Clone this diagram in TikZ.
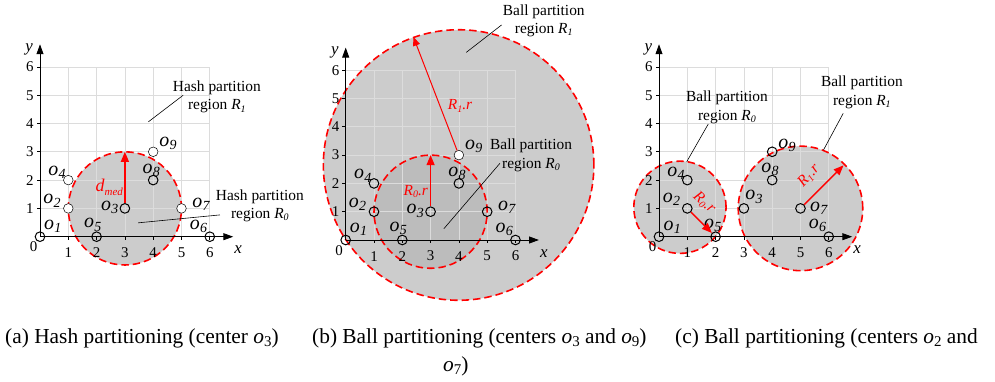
\documentclass[tikz,border=0pt]{standalone}
\usepackage{fontspec}
\setmainfont{Liberation Serif}
\usetikzlibrary{arrows.meta}
\definecolor{regc}{HTML}{CCCCCC}
\definecolor{regd}{HTML}{BCBCBC}
\definecolor{gridc}{HTML}{DCDCDC}
\definecolor{redc}{HTML}{FF0000}
\newcommand\olab[1]{\textit{o}\kern0.3pt\raisebox{-0.35ex}{\fontsize{14}{14}\selectfont\textit{#1}}}
\newcommand\Rsub[1]{\textit{R}\raisebox{-0.35ex}{\fontsize{10}{10}\selectfont\textit{#1}}}
\newcommand\panelgrid{\draw[gridl] (0,0) grid (6,6);}
\newcommand\panelaxes[1]{%
  \foreach \i in {1,...,6}{
    \draw[tickl] (\i,0) -- (\i,-0.12);
    \draw[tickl] (0,\i) -- (-0.12,\i);
    \node[num] (#1x\i) at (\i,-0.57) {\i};
    \node[num] (#1y\i) at (-0.36,\i) {\i};
  }
  \node[num] (#1zero) at (-0.23,-0.36) {0};
  \draw[axisl] (0,0) -- (6.83,0);
  \draw[axisl] (0,0) -- (0,6.8);
  \node[axlab] (#1xl) at (7.0,-0.47) {x};
  \node[axlab] (#1yl) at (-0.38,6.62) {y};
}
\begin{document}
\begin{tikzpicture}[x=0.035336cm, y=-0.035336cm,
  gridl/.style={draw=gridc, line width=0.7pt},
  axisl/.style={draw=black, line width=0.9pt, -{Triangle[length=10pt,width=7pt]}},
  tickl/.style={draw=black, line width=0.7pt},
  num/.style={font=\fontsize{15}{15}\selectfont, inner sep=0pt},
  axlab/.style={font=\fontsize{17}{17}\selectfont\itshape, inner sep=0pt},
  pt/.style={circle, draw=black, line width=1pt, minimum size=0.34cm, inner sep=0pt},
  wpt/.style={pt, fill=white, line width=0.5pt},
  olbl/.style={font=\fontsize{20}{20}\selectfont, inner sep=0pt},
  region/.style={fill=regc},
  border/.style={draw=redc, line width=1.6pt, dash pattern=on 7.5pt off 4pt},
  redarr/.style={draw=redc, line width=1.3pt, -{Triangle[length=10pt,width=8pt]}},
  redarrthin/.style={draw=redc, line width=1pt, -{Triangle[length=9pt,width=7pt]}},
  redlbl/.style={text=redc, font=\fontsize{15.5}{15.5}\selectfont, inner sep=0pt},
  lbl/.style={font=\fontsize{15.5}{18.3}\selectfont, align=center, inner sep=0pt},
  lead/.style={draw=black, line width=0.6pt},
  captxt/.style={font=\fontsize{21.5}{27}\selectfont, inner sep=0pt, anchor=base west}]
\useasboundingbox (0,0) rectangle (995,382);

% ---------------- panel (a)
\begin{scope}[shift={(40,236.7)}, x=1cm, y=1cm]
  \fill[region] (3,1) circle (2);
  \panelgrid
  \draw[border] (3,1) circle (2);
  \panelaxes{a}
  \node[pt]  (a1) at (0,0) {};
  \node[wpt] (a2) at (1,1) {};
  \node[pt]  (a3) at (3,1) {};
  \node[wpt] (a4) at (1,2) {};
  \node[pt]  (a5) at (2,0) {};
  \node[pt]  (a6) at (6,0) {};
  \node[wpt] (a7) at (5,1) {};
  \node[pt]  (a8) at (4,2) {};
  \node[wpt] (a9) at (4,3) {};
  \node[olbl] (la1) at (0.45,0.37) {\olab{1}};
  \node[olbl] (la2) at (0.42,1.27) {\olab{2}};
  \node[olbl] (la3) at (2.46,1.03) {\olab{3}};
  \node[olbl] (la4) at (0.60,2.27) {\olab{4}};
  \node[olbl] (la5) at (1.86,0.42) {\olab{5}};
  \node[olbl] (la6) at (5.60,0.37) {\olab{6}};
  \node[olbl] (la7) at (5.70,1.15) {\olab{7}};
  \node[olbl] (la8) at (3.93,2.35) {\olab{8}};
  \node[olbl] (la9) at (4.52,3.30) {\olab{9}};
  \coordinate (atop) at (3,3);
  \draw[redarr] (a3) -- (atop);
  \node[redlbl, font=\fontsize{18}{18}\selectfont] (adm) at (2.45,1.75) {\textit{d}\raisebox{-0.5ex}{\fontsize{11}{11}\selectfont\textit{med}}};
  \node[lbl] (aR1) at (6.25,4.94) {Hash partition\\region \Rsub{1}};
  \node[lbl] (aR0) at (7.77,1.10) {Hash partition\\region \Rsub{0}};
  \coordinate (aL1s) at (3.83,4.06); \coordinate (aL1e) at (5.06,5.00);
  \coordinate (aL0s) at (3.47,0.49); \coordinate (aL0e) at (6.36,0.77);
  \draw[lead] (aL1s) -- (aL1e);
  \draw[lead] (aL0s) -- (aL0e);
\end{scope}

% ---------------- panel (b)
\begin{scope}[shift={(345.7,240)}, x=1cm, y=1cm]
  \fill[region] (3.99,2.65) circle (4.78);
  \fill[regd] (3,1) circle (2);
  \panelgrid
  \draw[border] (3.99,2.65) circle (4.78);
  \draw[border] (3,1) circle (2);
  \panelaxes{b}
  \node[pt]  (b1) at (0,0) {};
  \node[pt]  (b2) at (1,1) {};
  \node[pt]  (b3) at (3,1) {};
  \node[pt]  (b4) at (1,2) {};
  \node[pt]  (b5) at (2,0) {};
  \node[pt]  (b6) at (6,0) {};
  \node[pt]  (b7) at (5,1) {};
  \node[pt]  (b8) at (4,2) {};
  \node[wpt] (b9) at (4,3) {};
  \node[olbl] (lb1) at (0.45,0.37) {\olab{1}};
  \node[olbl] (lb2) at (0.42,1.27) {\olab{2}};
  \node[olbl] (lb3) at (2.46,1.03) {\olab{3}};
  \node[olbl] (lb4) at (0.60,2.27) {\olab{4}};
  \node[olbl] (lb5) at (1.86,0.42) {\olab{5}};
  \node[olbl] (lb6) at (5.60,0.37) {\olab{6}};
  \node[olbl] (lb7) at (5.70,1.15) {\olab{7}};
  \node[olbl] (lb8) at (3.93,2.35) {\olab{8}};
  \node[olbl] (lb9) at (4.52,3.30) {\olab{9}};
  \coordinate (btop) at (3,3);
  \coordinate (bedge) at (2.39,7.18);
  \draw[redarr] (b3) -- (btop);
  \draw[redarrthin] (b9) -- (bedge);
  \node[redlbl] (bR0r) at (2.48,1.71) {\Rsub{0}\textit{.r}};
  \node[redlbl] (bR1r) at (4.04,4.73) {\Rsub{1}\textit{.r}};
  \node[lbl] (bR1) at (7.00,7.75) {Ball partition\\region \Rsub{1}};
  \node[lbl] (bR0) at (6.55,2.99) {Ball partition\\region \Rsub{0}};
  \coordinate (bL1s) at (4.26,6.63); \coordinate (bL1e) at (5.51,7.60);
  \coordinate (bL0s) at (3.47,0.40); \coordinate (bL0e) at (5.45,2.71);
  \draw[lead] (bL1s) -- (bL1e);
  \draw[lead] (bL0s) -- (bL0e);
\end{scope}

% ---------------- panel (c)
\begin{scope}[shift={(659,236.7)}, x=1cm, y=1cm]
  \fill[region] (0.74,1.04) circle (1.63);
  \fill[region] (5,1) circle (2.2);
  \panelgrid
  \draw[border] (0.74,1.04) circle (1.63);
  \draw[border] (5,1) circle (2.2);
  \panelaxes{c}
  \node[pt] (c1) at (0,0) {};
  \node[pt] (c2) at (1,1) {};
  \node[pt] (c3) at (3,1) {};
  \node[pt] (c4) at (1,2) {};
  \node[pt] (c5) at (2,0) {};
  \node[pt] (c6) at (6,0) {};
  \node[pt] (c7) at (5,1) {};
  \node[pt] (c8) at (4,2) {};
  \node[pt] (c9) at (4,3) {};
  \node[olbl] (lc1) at (0.47,0.33) {\olab{1}};
  \node[olbl] (lc2) at (0.44,1.33) {\olab{2}};
  \node[olbl] (lc3) at (3.36,1.41) {\olab{3}};
  \node[olbl] (lc4) at (0.60,2.25) {\olab{4}};
  \node[olbl] (lc5) at (1.90,0.41) {\olab{5}};
  \node[olbl] (lc6) at (5.60,0.40) {\olab{6}};
  \node[olbl] (lc7) at (5.65,1.01) {\olab{7}};
  \node[olbl] (lc8) at (3.92,2.37) {\olab{8}};
  \node[olbl] (lc9) at (4.52,3.22) {\olab{9}};
  \coordinate (cedge) at (6.52,2.52);
  \draw[redarr] (c2) -- (c5);
  \draw[redarr] (c7) -- (cedge);
  \node[redlbl, rotate=-42] (cR0r) at (1.60,1.20) {\Rsub{0}\textit{.r}};
  \node[redlbl, rotate=47] (cR1r) at (5.30,2.15) {\Rsub{1}\textit{.r}};
  \node[lbl] (cR0) at (2.40,4.57) {Ball partition\\region \Rsub{0}};
  \node[lbl] (cR1) at (7.17,5.10) {Ball partition\\region \Rsub{1}};
  \coordinate (cL0s) at (0.98,2.65); \coordinate (cL0e) at (1.74,3.98);
  \coordinate (cL1s) at (5.81,3.06); \coordinate (cL1e) at (6.51,4.36);
  \draw[lead] (cL0s) -- (cL0e);
  \draw[lead] (cL1s) -- (cL1e);
\end{scope}

% ---------------- captions
\node[captxt] (capa) at (5,343) {(a) Hash partitioning (center \textit{o}\raisebox{-0.35ex}{\fontsize{15}{15}\selectfont 3})};
\node[captxt] (capb) at (312,343) {(b) Ball partitioning (centers \textit{o}\raisebox{-0.35ex}{\fontsize{15}{15}\selectfont 3} and \textit{o}\raisebox{-0.35ex}{\fontsize{15}{15}\selectfont 9})};
\node[captxt] (capc) at (675,343) {(c) Ball partitioning (centers \textit{o}\raisebox{-0.35ex}{\fontsize{15}{15}\selectfont 2} and};
\node[captxt] (capc2) at (443,371) {\textit{o}\raisebox{-0.35ex}{\fontsize{15}{15}\selectfont 7})};
\end{tikzpicture}
\end{document}
